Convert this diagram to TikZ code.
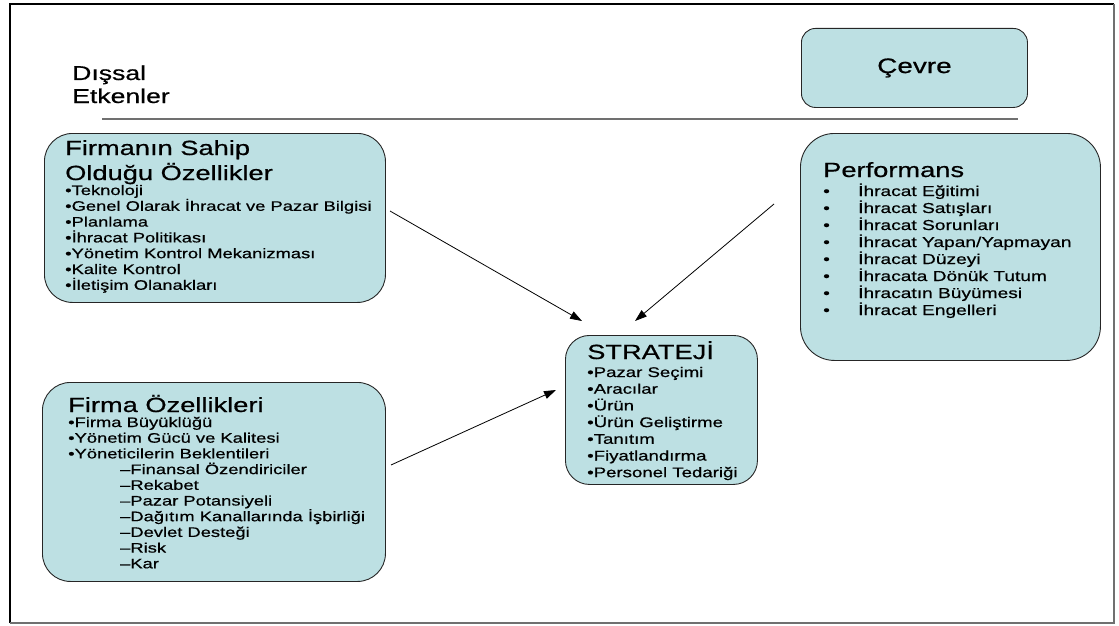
\documentclass[tikz,border=0pt]{standalone}
\usepackage{fontspec}
\setmainfont{Liberation Sans}[FakeStretch=1.33,FakeBold=0.6]
\usetikzlibrary{arrows.meta}
\definecolor{boxfill}{RGB}{189,224,227}
\definecolor{rulegray}{RGB}{112,112,112}
\tikzset{
  box/.style={draw=black!85, line width=0.9pt, fill=boxfill, inner sep=0pt, anchor=north west},
  ttl/.style={anchor=base west, inner sep=0pt, font=\fontsize{20.5}{25}\selectfont},
  itm/.style={anchor=base west, inner sep=0pt, font=\fontsize{13.8}{15.8}\selectfont},
  pitm/.style={anchor=base west, inner sep=0pt, font=\fontsize{14.4}{17}\selectfont},
  arr/.style={-{Triangle[length=12pt,width=8pt]}, line width=0.8pt},
}
\begin{document}
\begin{tikzpicture}[x=1pt,y=-1pt]
\useasboundingbox (0,0) rectangle (1119,626);
% frame
\draw[line width=2pt] (10,623) -- (10,4) -- (1114,4);
\draw[rulegray, line width=1.5pt] (1114,4) -- (1114,623) -- (10,623);
% external factors
\node[ttl, font=\fontsize{20}{23}\selectfont] (dis1) at (72,80) {Dışsal};
\node[ttl, font=\fontsize{20}{23}\selectfont] (dis2) at (72,103) {Etkenler};
\draw[rulegray, line width=1.5pt] (102,119) -- (1018,119);
% Cevre
\node[box, rounded corners=14pt, minimum width=226pt, minimum height=79pt] (cevre) at (801,28) {};
\node[inner sep=0pt, font=\fontsize{21}{25}\selectfont] (cevret) at (cevre.center) {Çevre};
% Firmanin sahip oldugu ozellikler
\node[box, rounded corners=28pt, minimum width=341pt, minimum height=169pt] (fsahip) at (44,133) {};
\node[ttl] (fs1) at (65,155) {Firmanın Sahip};
\node[ttl] (fs2) at (65,180) {Olduğu Özellikler};
\foreach \t [count=\i from 0] in {Teknoloji,Genel Olarak İhracat ve Pazar Bilgisi,Planlama,İhracat Politikası,Yönetim Kontrol Mekanizması,Kalite Kontrol,İletişim Olanakları}
  \node[itm] (fsi\i) at (65,195+15.8*\i) {•\t};
% Performans
\node[box, rounded corners=34pt, minimum width=300pt, minimum height=227pt] (perf) at (800,133) {};
\node[ttl] (pt) at (823,177) {Performans};
\foreach \t [count=\i from 0] in {İhracat Eğitimi,İhracat Satışları,İhracat Sorunları,İhracat Yapan/Yapmayan,İhracat Düzeyi,İhracata Dönük Tutum,İhracatın Büyümesi,İhracat Engelleri}{
  \node[pitm] (pb\i) at (823,196+17*\i) {•};
  \node[pitm] (pi\i) at (858,196+17*\i) {\t};
}
% Strateji
\node[box, rounded corners=24pt, minimum width=192pt, minimum height=149pt] (str) at (565,335) {};
\node[ttl] (st) at (587,359) {STRATEJİ};
\foreach \t [count=\i from 0] in {Pazar Seçimi,Aracılar,Ürün,Ürün Geliştirme,Tanıtım,Fiyatlandırma,Personel Tedariği}
  \node[itm, font=\fontsize{14}{16.7}\selectfont] (si\i) at (587,377+16.7*\i) {•\t};
% Firma ozellikleri
\node[box, rounded corners=28pt, minimum width=343pt, minimum height=199pt] (fo) at (42,382) {};
\node[ttl] (fot) at (68,412) {Firma Özellikleri};
\foreach \t [count=\i from 0] in {Firma Büyüklüğü,Yönetim Gücü ve Kalitesi,Yöneticilerin Beklentileri}
  \node[itm] (foi\i) at (68,427+15.7*\i) {•\t};
\foreach \t [count=\i from 3] in {Finansal Özendiriciler,Rekabet,Pazar Potansiyeli,Dağıtım Kanallarında İşbirliği,Devlet Desteği,Risk,Kar}
  \node[itm] (fos\i) at (120,427+15.7*\i) {–\t};
% arrows
\coordinate (a1s) at (390,211);
\coordinate (a1e) at (582,321);
\coordinate (a2s) at (774,204);
\coordinate (a2e) at (635,321);
\coordinate (a3s) at (391,465);
\coordinate (a3e) at (556,390);
\draw[arr] (a1s) -- (a1e);
\draw[arr] (a2s) -- (a2e);
\draw[arr] (a3s) -- (a3e);
\end{tikzpicture}
\end{document}
